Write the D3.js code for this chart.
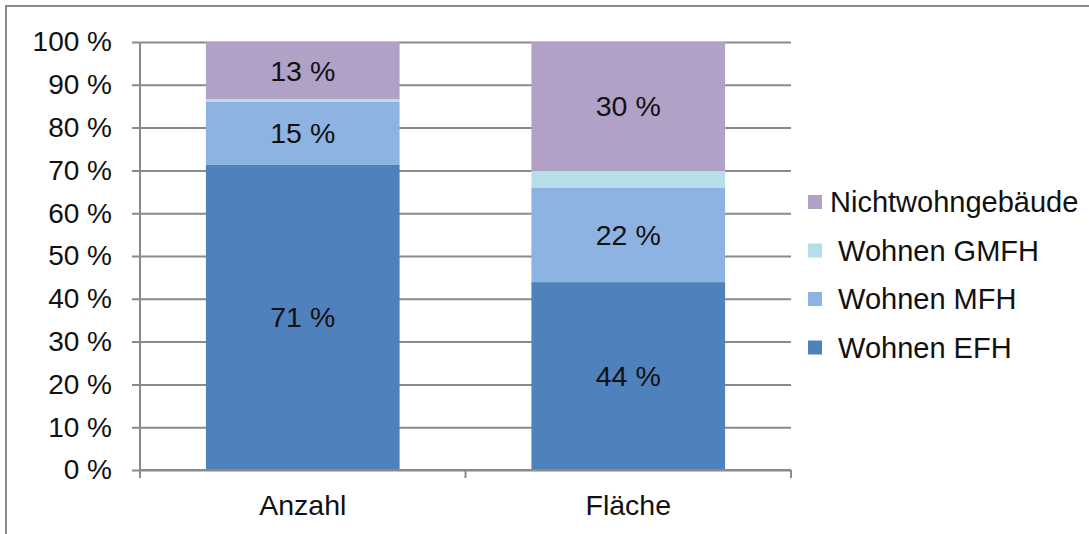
<!DOCTYPE html>
<html>
<head>
<meta charset="utf-8">
<script src="https://cdn.jsdelivr.net/npm/d3@7"></script>
<style>
  body { margin: 0; background: #fff; }
  text { font-family: "Liberation Sans", Arial, sans-serif; fill: #111; }
</style>
</head>
<body>
<div id="chart"></div>
<script>
'use strict';

// chart data (percent)
var categories = ["Anzahl", "Fläche"];
var seriesNames = [" Wohnen EFH", " Wohnen MFH", " Wohnen GMFH", "Nichtwohngebäude"];
var efh = [71.4, 43.9];
var mfh = [14.7, 22.1];
var gmfh = [0.5, 3.9];
var nwg = [13.4, 30.1];
var showLabel = [true, true, false, true];
var yTicks = [0, 10, 20, 30, 40, 50, 60, 70, 80, 90, 100];
var colors = ["#4f81bd", "#8db3e2", "#b7dee8", "#b2a1c7"];

var width = 1089, height = 534;
var plot = {left: 140, right: 791, top: 42, bottom: 470};

var svg = d3.select("#chart")
  .append("svg")
    .attr("width", width)
    .attr("height", height);

// frame around the chart
svg.append("rect")
  .attr("x", 6).attr("y", 6)
  .attr("width", 1200).attr("height", 700)
  .attr("fill", "#fff")
  .attr("stroke", "#8a8a8a")
  .attr("stroke-width", 2);

var x = d3.scaleBand()
  .domain(categories)
  .range([plot.left, plot.right]);

var y = d3.scaleLinear()
  .domain([0, 100])
  .range([plot.bottom, plot.top]);

// table for the stack
var table = categories.map(function(c, i) {
  var row = {cat: c};
  row[seriesNames[0]] = efh[i];
  row[seriesNames[1]] = mfh[i];
  row[seriesNames[2]] = gmfh[i];
  row[seriesNames[3]] = nwg[i];
  return row;
});
var stacked = d3.stack().keys(seriesNames)(table);

// y axis with gridlines
var yAxis = svg.append("g")
  .attr("transform", "translate(" + plot.left + ",0)")
  .call(d3.axisLeft(y)
    .tickValues(yTicks)
    .tickSize(-(plot.right - plot.left))
    .tickSizeOuter(0)
    .tickPadding(28)
    .tickFormat(function(d) { return d + " %"; }));
yAxis.select(".domain").remove();
yAxis.selectAll(".tick line")
  .attr("x1", -8)
  .attr("stroke", "#8a8a8a")
  .attr("stroke-width", 2);
yAxis.selectAll(".tick text")
  .style("font-size", "28px")
  .attr("fill", "#111");

// bars
var barW = x.bandwidth() * 0.595;
svg.append("g")
  .selectAll("g")
  .data(stacked)
  .enter()
  .append("g")
    .attr("fill", function(d, i) { return colors[i]; })
  .selectAll("rect")
  .data(function(d) { return d; })
  .enter()
  .append("rect")
    .attr("x", function(d) { return x(d.data.cat) + (x.bandwidth() - barW) / 2; })
    .attr("y", function(d) { return y(d[1]); })
    .attr("width", barW)
    .attr("height", function(d) { return y(d[0]) - y(d[1]); });

// value labels
stacked.forEach(function(s, si) {
  if (!showLabel[si]) return;
  svg.append("g")
    .selectAll("text")
    .data(s)
    .enter()
    .append("text")
      .attr("x", function(d) { return x(d.data.cat) + x.bandwidth() / 2; })
      .attr("y", function(d) { return (y(d[0]) + y(d[1])) / 2; })
      .attr("dy", "0.35em")
      .attr("text-anchor", "middle")
      .style("font-size", "28.5px")
      .text(function(d) { return Math.round(d[1] - d[0]) + " %"; });
});

// y axis line
svg.append("line")
  .attr("x1", plot.left).attr("x2", plot.left)
  .attr("y1", plot.top).attr("y2", plot.bottom + 8)
  .attr("stroke", "#8a8a8a")
  .attr("stroke-width", 2);

// x axis
var xAxis = svg.append("g")
  .attr("transform", "translate(0," + plot.bottom + ")");
xAxis.append("line")
  .attr("x1", plot.left).attr("x2", plot.right)
  .attr("stroke", "#8a8a8a")
  .attr("stroke-width", 2);
xAxis.selectAll(".sep")
  .data(categories)
  .enter()
  .append("line")
    .attr("class", "sep")
    .attr("x1", function(d) { return x(d) + x.bandwidth(); })
    .attr("x2", function(d) { return x(d) + x.bandwidth(); })
    .attr("y1", 0).attr("y2", 8)
    .attr("stroke", "#8a8a8a")
    .attr("stroke-width", 2);
xAxis.selectAll(".cat")
  .data(categories)
  .enter()
  .append("text")
    .attr("class", "cat")
    .attr("x", function(d) { return x(d) + x.bandwidth() / 2; })
    .attr("y", 35)
    .attr("dy", "0.35em")
    .attr("text-anchor", "middle")
    .style("font-size", "28.5px")
    .text(function(d) { return d; });

// legend (reverse order)
var legend = svg.append("g")
  .attr("transform", "translate(808,202)");
var items = legend.selectAll("g")
  .data(seriesNames.slice().reverse())
  .enter()
  .append("g")
    .attr("transform", function(d, i) { return "translate(0," + (i * 48.5) + ")"; });
items.append("rect")
  .attr("x", 0).attr("y", -7)
  .attr("width", 14).attr("height", 14)
  .attr("fill", function(d) { return colors[seriesNames.indexOf(d)]; });
items.append("text")
  .attr("x", 22)
  .attr("dy", "0.35em")
  .style("font-size", "29px")
  .style("white-space", "pre")
  .text(function(d) { return d; });
</script>
</body>
</html>
